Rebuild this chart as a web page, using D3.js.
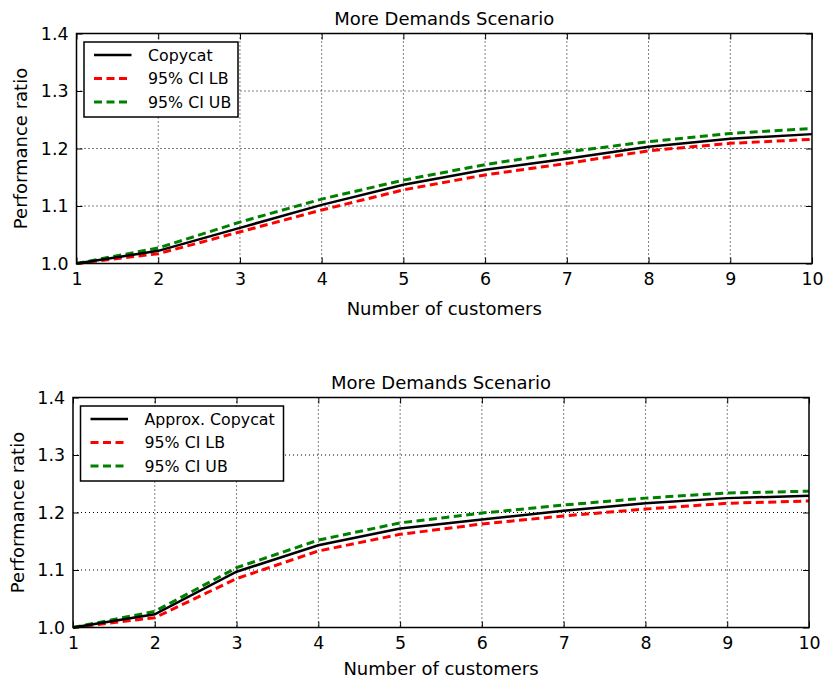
<!DOCTYPE html>
<html>
<head>
<meta charset="utf-8"/>
<script src="https://d3js.org/d3.v7.min.js"></script>
<style>
  body { margin: 0; background: #fff; }
  text { font-family: "DejaVu Sans", sans-serif; fill: #000; }
</style>
</head>
<body>
<script>
const customers = [1, 2, 3, 4, 5, 6, 7, 8, 9, 10]
const yTicks = [1.0, 1.1, 1.2, 1.3, 1.4]

// top panel: Copycat
const copycat   = [1.0, 1.022, 1.062, 1.102, 1.137, 1.163, 1.182, 1.203, 1.217, 1.225]
const copycatLB = [1.0, 1.017, 1.055, 1.093, 1.128, 1.154, 1.174, 1.196, 1.209, 1.216]
const copycatUB = [1.0, 1.027, 1.072, 1.112, 1.145, 1.172, 1.194, 1.212, 1.226, 1.235]

// bottom panel: Approx. Copycat
const approx   = [1.0, 1.023, 1.097, 1.143, 1.172, 1.188, 1.203, 1.216, 1.225, 1.229]
const approxLB = [1.0, 1.017, 1.085, 1.133, 1.162, 1.180, 1.194, 1.206, 1.216, 1.220]
const approxUB = [1.0, 1.028, 1.104, 1.152, 1.182, 1.199, 1.213, 1.225, 1.234, 1.237]

const width = 826, height = 680

const svg = d3.select('body').append('svg')
  .attr('width', width)
  .attr('height', height)

function panel(box, title, label, main, lb, ub) {
  const x = d3.scaleLinear().domain([1, 10]).range([box.x0, box.x1])
  const y = d3.scaleLinear().domain([1.0, 1.4]).range([box.y1, box.y0])
  const g = svg.append('g')

  // grid
  g.selectAll('.gx').data(customers.slice(1, -1)).enter().append('line')
    .attr('x1', d => x(d)).attr('x2', d => x(d))
    .attr('y1', box.y0).attr('y2', box.y1)
    .attr('stroke', '#000').attr('stroke-width', 1).attr('stroke-dasharray', '1,3')
  g.selectAll('.gy').data(yTicks.slice(1, -1)).enter().append('line')
    .attr('y1', d => y(d)).attr('y2', d => y(d))
    .attr('x1', box.x0).attr('x2', box.x1)
    .attr('stroke', '#000').attr('stroke-width', 1).attr('stroke-dasharray', '1,3')

  // inward ticks on all four sides
  const tl = 6
  g.append('g').attr('transform', `translate(0,${box.y1})`)
    .call(d3.axisBottom(x).tickValues(customers).tickFormat(d3.format('d')).tickSize(-tl).tickPadding(9))
  g.append('g').attr('transform', `translate(0,${box.y0})`)
    .call(d3.axisTop(x).tickValues(customers).tickFormat('').tickSize(-tl))
  g.append('g').attr('transform', `translate(${box.x0},0)`)
    .call(d3.axisLeft(y).tickValues(yTicks).tickFormat(d3.format('.1f')).tickSize(-tl).tickPadding(8))
  g.append('g').attr('transform', `translate(${box.x1},0)`)
    .call(d3.axisRight(y).tickValues(yTicks).tickFormat('').tickSize(-tl))
  g.selectAll('.domain').remove()
  g.selectAll('.tick line').attr('stroke', '#000').attr('stroke-width', 1)
  g.selectAll('.tick text').style('font-size', '17.4px').style('font-family', '"DejaVu Sans", sans-serif')

  const line = d3.line().x((d, i) => x(customers[i])).y(d => y(d))

  g.append('path').datum(lb).attr('d', line)
    .attr('fill', 'none').attr('stroke', '#ff0000').attr('stroke-width', 3).attr('stroke-dasharray', '8,4.5')
  g.append('path').datum(ub).attr('d', line)
    .attr('fill', 'none').attr('stroke', '#008000').attr('stroke-width', 3).attr('stroke-dasharray', '8,4.5')
  g.append('path').datum(main).attr('d', line)
    .attr('fill', 'none').attr('stroke', '#000').attr('stroke-width', 2.5)

  // frame
  g.append('rect')
    .attr('x', box.x0).attr('y', box.y0)
    .attr('width', box.x1 - box.x0).attr('height', box.y1 - box.y0)
    .attr('fill', 'none').attr('stroke', '#000').attr('stroke-width', 1.5)

  // titles
  const cx = (box.x0 + box.x1) / 2
  g.append('text').attr('x', cx).attr('y', box.y0 - 8.5)
    .attr('text-anchor', 'middle').style('font-size', '18px').text(title)
  g.append('text').attr('x', cx).attr('y', box.y1 + box.xlab)
    .attr('text-anchor', 'middle').style('font-size', '18px').text('Number of customers')
  g.append('text')
    .attr('transform', `translate(${box.x0 - 49.5},${(box.y0 + box.y1) / 2}) rotate(-90)`)
    .attr('text-anchor', 'middle').style('font-size', '18px').text('Performance ratio')

  // legend
  const items = [
    { name: label, color: '#000', dash: null },
    { name: '95% CI LB', color: '#ff0000', dash: '8,4.5' },
    { name: '95% CI UB', color: '#008000', dash: '8,4.5' }
  ]
  const lg = g.append('g').attr('transform', `translate(${box.x0 + 7.5},${box.y0 + 8.5})`)
  lg.append('rect').attr('width', box.legendW).attr('height', 75)
    .attr('fill', '#fff').attr('stroke', '#000').attr('stroke-width', 1.5)
  items.forEach((it, i) => {
    const ly = 13 + i * 23.5
    lg.append('line').attr('x1', 10).attr('x2', 47.5).attr('y1', ly).attr('y2', ly)
      .attr('stroke', it.color).attr('stroke-width', it.dash ? 3 : 2.5)
      .attr('stroke-dasharray', it.dash)
    lg.append('text').attr('x', 64).attr('y', ly + 5.5)
      .style('font-size', '15.8px').text(it.name)
  })
}

panel({ x0: 76.5, x1: 812, y0: 33.5, y1: 263.5, legendW: 154, xlab: 51 },
  'More Demands Scenario', 'Copycat', copycat, copycatLB, copycatUB)
panel({ x0: 73, x1: 809, y0: 397.5, y1: 627.5, legendW: 203, xlab: 47.5 },
  'More Demands Scenario', 'Approx. Copycat', approx, approxLB, approxUB)
</script>
</body>
</html>
